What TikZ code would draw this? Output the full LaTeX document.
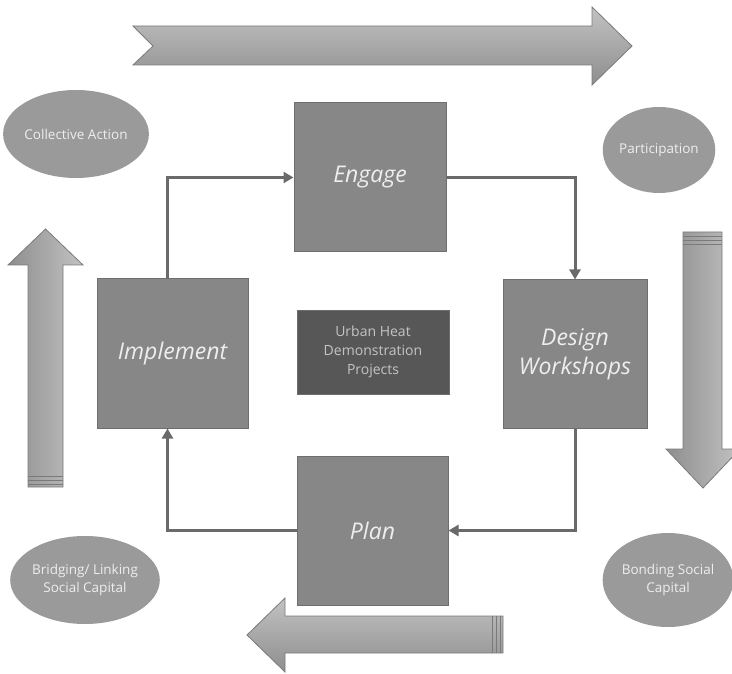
\documentclass[tikz,border=0pt]{standalone}
\usepackage{fontspec}
\setmainfont{Open Sans}
\usetikzlibrary{arrows.meta, shapes.geometric}
\definecolor{stagefill}{HTML}{878787}
\definecolor{stageline}{HTML}{6E6E6E}
\definecolor{stagetext}{HTML}{EEEEEE}
\definecolor{capfill}{HTML}{9A9A9A}
\definecolor{corefill}{HTML}{575757}
\definecolor{coretext}{HTML}{C4C4C4}
\definecolor{flowline}{HTML}{6A6A6A}
\definecolor{bandline}{HTML}{7A7A7A}
\definecolor{bandlight}{HTML}{C2C2C2}
\definecolor{banddark}{HTML}{8E8E8E}

\begin{document}
\begin{tikzpicture}[x=1pt, y=-1pt,
			stage/.style={draw=stageline, fill=stagefill, line width=1pt, text=stagetext, align=center, inner sep=0pt, font=\itshape\fontsize{23}{29}\selectfont},
			capital/.style={ellipse, fill=capfill, text=stagetext, align=center, inner sep=0pt, font=\fontsize{13.5}{18}\selectfont},
			flow/.style={draw=flowline, line width=3pt, -{Triangle[length=10pt, width=11pt]}},
			hband/.style={draw=bandline, line width=0.8pt, top color=bandlight, bottom color=banddark},
			vband/.style={draw=bandline, line width=0.8pt, left color=banddark, right color=bandlight},
			stripe/.style={draw=bandline, line width=0.8pt}]
			\useasboundingbox (0,0) rectangle (732,674);
			\shadedraw[hband] (133,26) -- (592,26) -- (592,7) -- (632,46) -- (592,85) -- (592,65) -- (133,65) -- (153,46) -- cycle;
			\shadedraw[vband] (683,232) -- (722,232) -- (722,449) -- (740,449) -- (703,488) -- (666,449) -- (683,449) -- cycle;
			\draw[stripe] (683,236) -- (722,236);
			\draw[stripe] (683,240) -- (722,240);
			\draw[stripe] (683,244) -- (722,244);
			\shadedraw[hband] (503,616) -- (285,616) -- (285,598) -- (247,635) -- (285,672) -- (285,653) -- (503,653) -- cycle;
			\draw[stripe] (492,616) -- (492,653);
			\draw[stripe] (496,616) -- (496,653);
			\draw[stripe] (500,616) -- (500,653);
			\shadedraw[vband] (28,487) -- (28,265) -- (8,265) -- (45.5,229) -- (83,265) -- (63,265) -- (63,487) -- cycle;
			\draw[stripe] (28,476) -- (63,476);
			\draw[stripe] (28,480) -- (63,480);
			\draw[stripe] (28,484) -- (63,484);
			\node[capital, minimum width=118pt, minimum height=88pt] (collective) at (76,134) {Collective Action};
			\node[capital, minimum width=107pt, minimum height=86pt] (participation) at (659,150) {Participation};
			\node[capital, minimum width=116pt, minimum height=88pt] (bridging) at (85,580) {Bridging/ Linking\\Social Capital};
			\node[capital, minimum width=114pt, minimum height=94pt] (bonding) at (668,580) {Bonding Social\\Capital};
			\node[stage, minimum width=152pt, minimum height=149pt] (engage) at (370,177.5) {\raisebox{-3pt}{Engage}};
			\node[stage, minimum width=144pt, minimum height=148pt] (design) at (575,354) {Design\\Workshops};
			\node[stage, minimum width=151pt, minimum height=149pt] (plan) at (372.5,530.5) {Plan};
			\node[stage, minimum width=151pt, minimum height=149pt] (implement) at (172.5,353.5) {\raisebox{-3pt}{Implement}};
			\node[draw=stageline, fill=corefill, text=coretext, line width=0.8pt, align=center, inner sep=0pt, minimum width=152pt, minimum height=84pt, font=\fontsize{14}{19}\selectfont] (core) at (373,352) {Urban Heat\\Demonstration\\Projects};
			\draw[flow] ([xshift=-5pt]implement.north) |- (engage.west);
			\draw[flow] (engage.east) -| (design.north);
			\draw[flow] (design.south) |- (plan.east);
			\draw[flow] (plan.west) -| ([xshift=-5pt]implement.south);
\end{tikzpicture}
\end{document}
